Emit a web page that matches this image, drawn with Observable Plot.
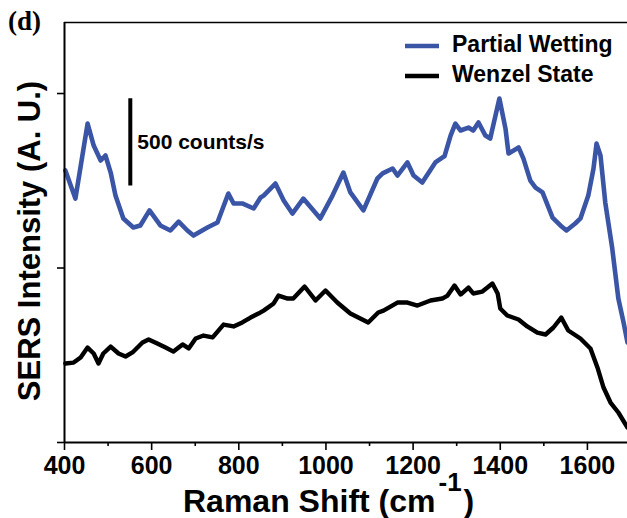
<!DOCTYPE html>
<html><head><meta charset="utf-8">
<script src="https://cdn.jsdelivr.net/npm/d3@7"></script>
<script src="https://cdn.jsdelivr.net/npm/@observablehq/plot@0.6"></script>
<style>body{margin:0;background:#fff}#chart{position:relative;width:627px;height:518px}</style>
</head><body><div id="chart"></div>
<script>
// Raman shift (cm^-1) and SERS intensity (counts/s, arbitrary offset)
const partialShift = [402,425,453,467,483,494,506,517,535,558,574,595,620,643,662,682,696,728,751,776,788,808,834,850,857,884,903,923,948,987,1015,1040,1056,1086,1118,1130,1153,1164,1187,1201,1221,1251,1267,1272,1286,1297,1309,1327,1338,1350,1366,1377,1398,1412,1419,1442,1453,1469,1481,1497,1520,1538,1552,1572,1584,1602,1614,1621,1630,1641,1657,1671,1683,1692];
const partialIntensity = [1559,1398,1828,1702,1616,1645,1547,1415,1284,1232,1244,1330,1244,1215,1266,1215,1186,1232,1261,1427,1370,1370,1341,1404,1415,1484,1387,1312,1398,1284,1415,1547,1433,1330,1513,1542,1570,1530,1605,1530,1490,1605,1633,1640,1759,1828,1788,1805,1788,1834,1759,1742,1971,1799,1656,1691,1628,1501,1461,1433,1289,1244,1215,1255,1284,1415,1570,1713,1645,1375,1112,825,688,573];
const wenzelShift = [402,421,437,453,467,478,489,506,524,540,556,579,593,613,632,650,671,685,701,719,740,765,788,808,827,845,857,880,891,912,925,951,976,999,1026,1056,1097,1120,1132,1164,1187,1210,1240,1267,1279,1295,1309,1327,1338,1359,1382,1394,1400,1416,1442,1462,1485,1504,1522,1540,1556,1584,1607,1623,1637,1653,1671,1692];
const wenzelIntensity = [453,458,487,544,510,453,510,550,510,493,516,573,590,567,544,521,562,539,596,613,602,676,665,688,716,739,756,797,842,825,825,894,814,871,802,739,688,745,756,802,802,785,814,825,842,900,848,888,854,865,911,854,768,728,705,665,630,619,659,716,642,596,539,430,315,229,172,86];

const seriesNames = ["Partial Wetting", "Wenzel State"];
const seriesColors = ["#3a54a6", "#000000"];
const xMajorTicks = [400, 600, 800, 1000, 1200, 1400, 1600];
const xMinorTicks = [500, 700, 900, 1100, 1300, 1500];
const yTicks = [0, 1000, 2000];
const xDomain = [400, 1692];
const yDomain = [0, 2407];
const scaleBar = [{shift: 551, low: 1470, high: 1970, label: "500 counts/s"}];
const xTitle = "Raman Shift (cm";
const xTitleSup = "-1";
const yTitle = "SERS Intensity (A. U.)";
const panelTag = "(d)";

const partial = partialShift.map((x, i) => ({x, y: partialIntensity[i]}));
const wenzel = wenzelShift.map((x, i) => ({x, y: wenzelIntensity[i]}));
const font = "'Liberation Sans', Arial, Helvetica, sans-serif";

const plot = Plot.plot({
  width: 627, height: 518,
  marginLeft: 64, marginRight: 0, marginTop: 22, marginBottom: 76,
  style: {fontFamily: font, color: "#000", background: "#fff"},
  x: {domain: xDomain},
  y: {domain: yDomain},
  marks: [
    Plot.line(wenzel, {x: "x", y: "y", stroke: seriesColors[1], strokeWidth: 4.4}),
    Plot.line(partial, {x: "x", y: "y", stroke: seriesColors[0], strokeWidth: 4.6}),
    Plot.ruleX(scaleBar, {x: "shift", y1: "low", y2: "high", stroke: "#000", strokeWidth: 4}),
    Plot.text(scaleBar, {x: "shift", y: d => (d.low + d.high) / 2, text: "label", textAnchor: "start", dx: 7, fontSize: 21, fontWeight: "bold", fill: "#000"}),
    Plot.ruleX([xDomain[0]], {stroke: "#000", strokeWidth: 2}),
    Plot.ruleY([yDomain[0]], {stroke: "#000", strokeWidth: 2}),
    Plot.ruleY([yDomain[1]], {stroke: "#000", strokeWidth: 1.6}),
    Plot.axisX({ticks: xMajorTicks, tickSize: 8, tickPadding: 6, tickFormat: d => String(d), fontSize: 25, fontWeight: "bold", label: null, strokeWidth: 1.6}),
    Plot.axisX({ticks: xMinorTicks, tickSize: 4, tickFormat: () => "", label: null, strokeWidth: 1.6}),
    Plot.axisY({ticks: yTicks, tickSize: 7, tickFormat: () => "", label: null, strokeWidth: 1.6})
  ]
});

const svg = d3.select(plot);
// Axis titles
svg.append("text")
  .attr("transform", "translate(40,241) rotate(-90)")
  .attr("text-anchor", "middle")
  .attr("font-family", font).attr("font-weight", "bold").attr("font-size", 31)
  .attr("fill", "#000").text(yTitle);
const xt = svg.append("text")
  .attr("x", 183).attr("y", 512).attr("text-anchor", "start")
  .attr("font-family", font).attr("font-weight", "bold").attr("font-size", 32)
  .attr("fill", "#000");
xt.append("tspan").text(xTitle);
xt.append("tspan").attr("font-size", 26).attr("dx", 3).attr("dy", -21).text(xTitleSup);
xt.append("tspan").attr("font-size", 32).attr("dx", 2).attr("dy", 21).text(")");
// Legend
seriesNames.forEach((name, i) => {
  const cy = 46 + i * 30;
  svg.append("line").attr("x1", 405).attr("x2", 439).attr("y1", cy).attr("y2", cy)
    .attr("stroke", seriesColors[i]).attr("stroke-width", 4.5);
  svg.append("text").attr("x", 452).attr("y", cy + 6).attr("text-anchor", "start")
    .attr("font-family", font).attr("font-weight", "bold").attr("font-size", 23)
    .attr("fill", "#000").text(name);
});
// Panel tag
svg.append("text").attr("x", 8).attr("y", 30).attr("text-anchor", "start")
  .attr("font-family", "'Liberation Serif', 'Times New Roman', serif")
  .attr("font-weight", "bold").attr("font-size", 27).attr("fill", "#000").text(panelTag);

document.getElementById("chart").appendChild(plot);
</script>
</body></html>
